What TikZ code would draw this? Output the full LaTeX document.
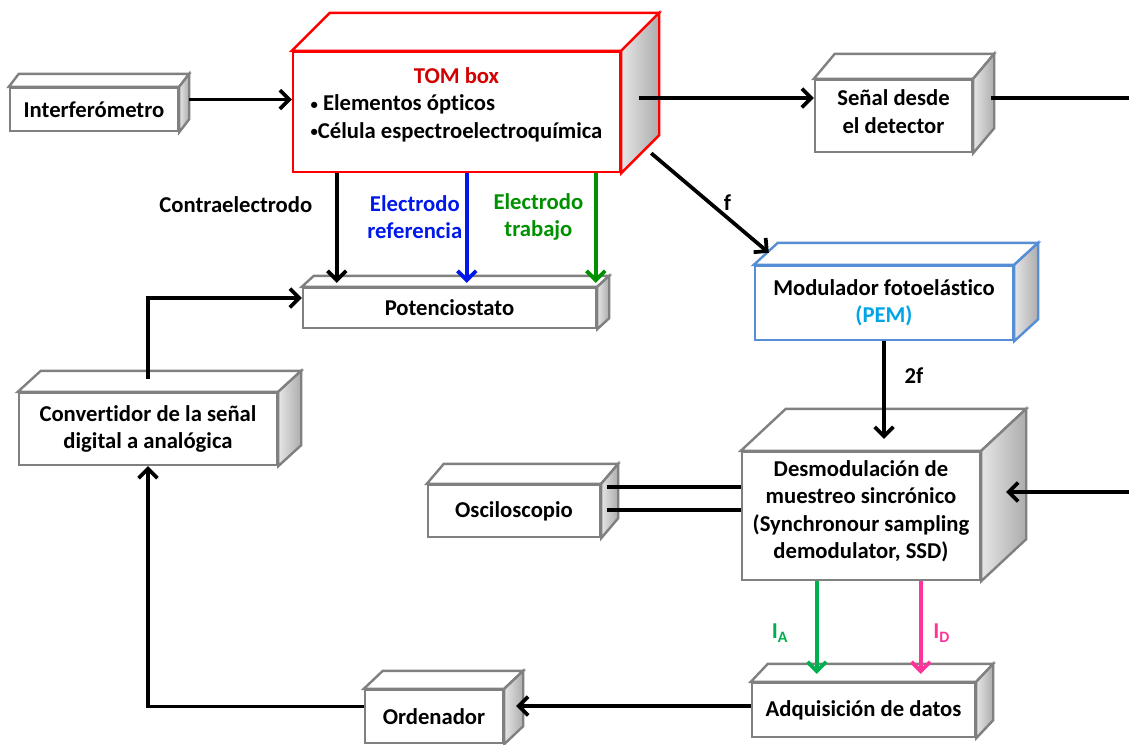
\documentclass[tikz,border=0pt]{standalone}
\usepackage{fontspec}
\setmainfont{Carlito}[Ligatures=NoCommon]
\usetikzlibrary{calc,arrows.meta}
\definecolor{boxgray}{RGB}{128,128,128}
\definecolor{tomred}{RGB}{210,0,0}
\definecolor{elblue}{RGB}{0,24,235}
\definecolor{elgreen}{RGB}{0,145,0}
\definecolor{pemblue}{RGB}{85,142,213}
\definecolor{pemtext}{RGB}{0,165,230}
\definecolor{iagreen}{RGB}{0,176,80}
\definecolor{idpink}{RGB}{255,51,153}
\newcommand\smbullet{\raisebox{1.3pt}{\fontsize{11}{11}\selectfont\textbullet}}
\begin{document}
\begin{tikzpicture}[x=0.75pt,y=-0.75pt,
    every node/.style={font=\fontsize{17}{20.5}\selectfont\bfseries},
    sz/.style 2 args={minimum width=#1*0.75pt, minimum height=#2*0.75pt},
    box/.style={draw=boxgray, line width=1.8pt, fill=white, inner sep=0pt, align=center},
    conn/.style={line width=2.8pt, -{Straight Barb[length=7pt,width=14pt]}},
    wire/.style={line width=2.8pt},
    lbl/.style={inner sep=0pt, align=center}]
\useasboundingbox (0,0) rectangle (1129,744);

\node[box, sz={168}{43}] (interf) at (94,109.5) {Interferómetro};
\node[box, draw=red, sz={327}{120}] (tom) at (456.5,112)
    {\raisebox{5pt}[\height][\depth]{\begin{tabular}{@{}l@{}}\multicolumn{1}{c}{\color{tomred}TOM box}\\
     \smbullet\ Elementos ópticos\\ \smbullet Célula espectroelectroquímica\end{tabular}}};
\node[box, sz={157}{72}] (senal) at (893.5,116) {\raisebox{1.5pt}[\height][\depth]{\begin{tabular}{@{}c@{}}Señal desde\\el detector\end{tabular}}};
\node[box, sz={293}{40}] (poten) at (449.5,308) {Potenciostato};
\node[box, draw=pemblue, sz={258}{74}] (pem) at (884,303)
    {Modulador fotoelástico\\{\color{pemtext}(PEM)}};
\node[box, sz={258}{72}] (conv) at (148,429) {Convertidor de la señal\\digital a analógica};
\node[box, sz={172}{52}] (osci) at (514,511) {Osciloscopio};
\node[box, sz={238}{128}] (ssd) at (861,516)
    {\raisebox{3pt}[\height][\depth]{\begin{tabular}{@{}c@{}}Desmodulación de\\muestreo sincrónico\\(Synchronour sampling\\demodulator, SSD)\end{tabular}}};
\node[box, sz={223}{54}] (adq) at (863.5,710) {Adquisición de datos};
\node[box, sz={138}{53}] (orde) at (434,716.5) {Ordenador};

\foreach \n/\dx/\dy/\c in {interf/10/13/boxgray, tom/38/38/red, senal/21/25/boxgray,
    poten/12/11/boxgray, pem/24/22/pemblue, conv/23/21/boxgray, osci/17/20/boxgray,
    ssd/45/42/boxgray, adq/17/18/boxgray, orde/19/18/boxgray}{
  \draw[draw=\c, line width=1.8pt, fill=white] (\n.north west) -- ++(\dx,-\dy)
      -- ($(\n.north east)+(\dx,-\dy)$) -- (\n.north east) -- cycle;
  \draw[draw=\c, line width=1.8pt, left color=gray!20, right color=gray!65] (\n.north east)
      -- ++(\dx,-\dy) -- ($(\n.south east)+(\dx,-\dy)$) -- (\n.south east) -- cycle;
}

\coordinate (detA) at (1129,98);
\coordinate (detB) at (1129,492);

\draw[conn] ($(interf.east)+(10,-10)$) coordinate (i1) -- (i1 -| tom.west);
\draw[conn] ($(tom.east)+(18,-14)$) coordinate (t1) -- (t1 -| senal.west);
\draw[wire] ($(senal.east)+(18,-18)$) -- (detA);
\draw[conn] (detB) -- ($(ssd.east)+(25,-24)$);
\draw[conn] ($(tom.south east)+(30,-20)$) -- node[lbl, right=9pt] (lf) {f} ($(pem.north west)+(15,-12)$);
\draw[conn] (pem.south) -- ($(pem.south |- ssd.north)+(0,-12)$) node[lbl, pos=0.35, right=14pt] (l2f) {2f};

\draw[conn] ($(tom.south west)+(45,0)$) coordinate (e1) -- ($(e1 |- poten.north)+(0,-4)$)
    node[lbl, pos=0.29, left=17pt] (lce) {Contraelectrodo};
\draw[conn, elblue] ($(tom.south west)+(175,0)$) coordinate (e2) -- ($(e2 |- poten.north)+(0,-4)$)
    node[lbl, text=elblue, pos=0.4, left=2pt] (ler) {Electrodo\\referencia};
\draw[conn, elgreen] ($(tom.south west)+(304,0)$) coordinate (e3) -- ($(e3 |- poten.north)+(0,-4)$)
    node[lbl, text=elgreen, pos=0.4, left=8pt] (let) {Electrodo\\trabajo};

\draw[wire] ($(osci.east)+(6,-24)$) coordinate (o1) -- (o1 -| ssd.west);
\draw[wire] ($(osci.east)+(6,-1)$) coordinate (o2) -- (o2 -| ssd.west);

\draw[conn, iagreen] ($(ssd.south west)+(76,0)$) coordinate (c1) -- ($(c1 |- adq.north)+(0,-8)$)
    node[lbl, text=iagreen, pos=0.56, left=20pt] (lia) {I\textsubscript{A}};
\draw[conn, idpink] ($(ssd.south west)+(180,0)$) coordinate (c2) -- ($(c2 |- adq.north)+(0,-8)$)
    node[lbl, text=idpink, pos=0.56, right=8pt] (lid) {I\textsubscript{D}};

\draw[conn] ($(adq.west)+(0,-4)$) coordinate (a1) -- ($(a1 -| orde.east)+(12,0)$);
\draw[conn] ($(orde.west)+(0,-10)$) -| (conv.south);
\draw[conn] ($(conv.north)+(0,-13)$) |- ($(poten.west)+(0,-10)$);
\end{tikzpicture}
\end{document}
